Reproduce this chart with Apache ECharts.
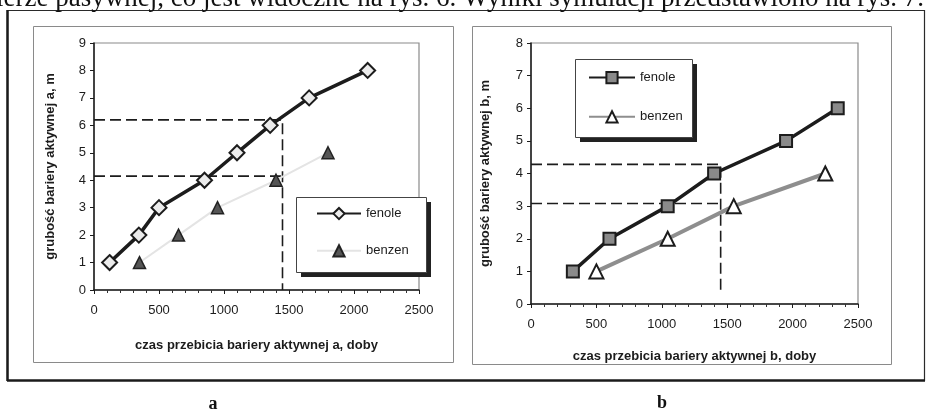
<!DOCTYPE html>
<html>
<head>
<meta charset="utf-8">
<script src="https://cdn.jsdelivr.net/npm/echarts@6/dist/echarts.min.js"></script>
<style>
html,body{margin:0;padding:0;background:#fff;}
#chart{width:930px;height:410px;}
</style>
</head>
<body>
<div id="chart"></div>
<script>
// ---- data ----
const seriesNames = ['fenole', 'benzen'];
const xTickValues = [0, 500, 1000, 1500, 2000, 2500];

// chart a
const fenoleAx = [120, 345, 500, 850, 1100, 1355, 1655, 2105];
const fenoleAy = [1, 2, 3, 4, 5, 6, 7, 8];
const benzenAx = [350, 650, 950, 1400, 1800];
const benzenAy = [1, 2, 3, 4, 5];
const guideAx = 1450;
const guideAyHigh = 6.2;
const guideAyLow = 4.15;

// chart b
const fenoleBx = [320, 600, 1045, 1400, 1950, 2345];
const fenoleBy = [1, 2, 3, 4, 5, 6];
const benzenBx = [500, 1045, 1550, 2250];
const benzenBy = [1, 2, 3, 4];
const guideBx = 1450;
const guideByHigh = 4.28;
const guideByLow = 3.08;
const guideByBottom = 0.35;

// texts
const topText = 'ierze pasywnej, co jest widoczne na rys. 6. Wyniki symulacji przedstawiono na rys. 7.';
const xNameA = 'czas przebicia bariery aktywnej a, doby';
const yNameA = 'grubość bariery aktywnej a, m';
const xNameB = 'czas przebicia bariery aktywnej b, doby';
const yNameB = 'grubość bariery aktywnej b, m';
const panelLabels = ['a', 'b'];

const zip = (xs, ys) => xs.map((x, i) => [x, ys[i]]);

const chart = echarts.init(document.getElementById('chart'), null, {renderer: 'canvas'});

const DARK = '#1c1c1c';
const FONT = 'Liberation Sans, Arial, sans-serif';

function xAxisCfg(gridIndex, name, gap) {
  return {
    type: 'value', gridIndex, min: xTickValues[0], max: xTickValues[xTickValues.length - 1], interval: 500,
    name, nameLocation: 'middle', nameGap: gap,
    nameTextStyle: {fontFamily: FONT, fontWeight: 'bold', fontSize: 13, color: DARK},
    axisLine: {show: true, onZero: false, lineStyle: {color: DARK, width: 1.5}},
    axisTick: {show: true, inside: false, length: 4, lineStyle: {color: DARK}},
    minorTick: {show: true, splitNumber: 5, length: 3, lineStyle: {color: '#333'}},
    axisLabel: {fontFamily: FONT, fontSize: 13, color: DARK, margin: 14, formatter: v => String(v)},
    splitLine: {show: false}
  };
}
function yAxisCfg(gridIndex, name, max, gap) {
  return {
    type: 'value', gridIndex, min: 0, max, interval: 1,
    name, nameLocation: 'middle', nameGap: gap, nameRotate: 90,
    nameTextStyle: {fontFamily: FONT, fontWeight: 'bold', fontSize: 13, color: DARK},
    axisLine: {show: true, onZero: false, lineStyle: {color: DARK, width: 1.5}},
    axisTick: {show: true, inside: false, length: 4, lineStyle: {color: DARK}},
    axisLabel: {fontFamily: FONT, fontSize: 13, color: DARK, margin: 8, formatter: v => String(v)},
    splitLine: {show: false}
  };
}

const guideStyle = {color: DARK, width: 1.6, type: [11, 5]};

function legendBox(x, y, w, h) {
  return [
    {type: 'rect', silent: true, z: 50, shape: {x: x + 5, y: y + 5, width: w, height: h}, style: {fill: '#222'}},
    {type: 'rect', silent: true, z: 51, shape: {x: x + 0.5, y: y + 0.5, width: w, height: h}, style: {fill: '#fff', stroke: '#444', lineWidth: 1}}
  ];
}

const option = {
  animation: false,
  backgroundColor: '#fff',
  grid: [
    {left: 94, top: 43, width: 325, height: 247, show: true, borderColor: '#8a8a8a', borderWidth: 1.2, backgroundColor: 'transparent'},
    {left: 531, top: 43, width: 327, height: 261, show: true, borderColor: '#8a8a8a', borderWidth: 1.2, backgroundColor: 'transparent'}
  ],
  xAxis: [xAxisCfg(0, xNameA, 49), xAxisCfg(1, xNameB, 46)],
  yAxis: [yAxisCfg(0, yNameA, 9, 37), yAxisCfg(1, yNameB, 8, 39)],
  legend: [
    {
      data: [seriesNames[0] + '|a', seriesNames[1] + '|a'],
      formatter: n => n.split('|')[0],
      orient: 'vertical', left: 296, top: 197, z: 60,
      padding: [10, 18, 12, 20], itemGap: 24, itemWidth: 44, itemHeight: 14,
      textStyle: {fontFamily: FONT, fontSize: 13, color: DARK},
      selectedMode: false
    },
    {
      data: [seriesNames[0] + '|b', seriesNames[1] + '|b'],
      formatter: n => n.split('|')[0],
      orient: 'vertical', left: 575, top: 59, z: 60,
      padding: [12, 10, 11, 13], itemGap: 26, itemWidth: 46, itemHeight: 14,
      textStyle: {fontFamily: FONT, fontSize: 13, color: DARK},
      selectedMode: false
    }
  ],
  series: [
    // chart a guides
    {type: 'line', xAxisIndex: 0, yAxisIndex: 0, silent: true, symbol: 'none', lineStyle: guideStyle,
      data: [[0, guideAyHigh], [guideAx, guideAyHigh], [guideAx, 0]], z: 1},
    {type: 'line', xAxisIndex: 0, yAxisIndex: 0, silent: true, symbol: 'none', lineStyle: guideStyle,
      data: [[0, guideAyLow], [guideAx, guideAyLow]], z: 1},
    // chart b guides
    {type: 'line', xAxisIndex: 1, yAxisIndex: 1, silent: true, symbol: 'none', lineStyle: guideStyle,
      data: [[0, guideByHigh], [guideBx, guideByHigh], [guideBx, guideByBottom]], z: 1},
    {type: 'line', xAxisIndex: 1, yAxisIndex: 1, silent: true, symbol: 'none', lineStyle: guideStyle,
      data: [[0, guideByLow], [guideBx, guideByLow]], z: 1},
    // chart a series
    {name: seriesNames[1] + '|a', type: 'line', xAxisIndex: 0, yAxisIndex: 0,
      data: zip(benzenAx, benzenAy), symbol: 'triangle', symbolSize: 12,
      lineStyle: {color: '#e4e4e4', width: 2},
      itemStyle: {color: '#555', borderColor: '#222', borderWidth: 1.5}, z: 3},
    {name: seriesNames[0] + '|a', type: 'line', xAxisIndex: 0, yAxisIndex: 0,
      data: zip(fenoleAx, fenoleAy), symbol: 'diamond', symbolSize: 15,
      lineStyle: {color: DARK, width: 3.5},
      itemStyle: {color: '#ececec', borderColor: DARK, borderWidth: 2}, z: 4},
    // chart b series
    {name: seriesNames[1] + '|b', type: 'line', xAxisIndex: 1, yAxisIndex: 1,
      data: zip(benzenBx, benzenBy), symbol: 'triangle', symbolSize: 14,
      lineStyle: {color: '#8e8e8e', width: 4},
      itemStyle: {color: '#fff', borderColor: DARK, borderWidth: 2}, z: 3},
    {name: seriesNames[0] + '|b', type: 'line', xAxisIndex: 1, yAxisIndex: 1,
      data: zip(fenoleBx, fenoleBy), symbol: 'rect', symbolSize: 12,
      lineStyle: {color: DARK, width: 3.5},
      itemStyle: {color: '#8a8a8a', borderColor: DARK, borderWidth: 2}, z: 4}
  ],
  graphic: [
    {type: 'text', x: -4, y: 12, silent: true,
      style: {text: topText, font: '27px "Liberation Serif", "Times New Roman", serif', fill: '#111', verticalAlign: 'bottom'}},
    // outer frame
    {type: 'rect', silent: true, shape: {x: 7.5, y: 10.5, width: 917, height: 370},
      style: {fill: 'none', stroke: '#2a2a2a', lineWidth: 1.2}, z: -10},
    {type: 'line', silent: true, shape: {x1: 7.5, y1: 10, x2: 7.5, y2: 381}, style: {stroke: '#1a1a1a', lineWidth: 2.5}, z: -10},
    {type: 'line', silent: true, shape: {x1: 7, y1: 380.5, x2: 925, y2: 380.5}, style: {stroke: '#1a1a1a', lineWidth: 2.5}, z: -10},
    // inner panel frames
    {type: 'rect', silent: true, shape: {x: 33.5, y: 26.5, width: 420, height: 336},
      style: {fill: 'none', stroke: '#8a8a8a', lineWidth: 1}, z: -10},
    {type: 'rect', silent: true, shape: {x: 472.5, y: 26.5, width: 419, height: 338},
      style: {fill: 'none', stroke: '#8a8a8a', lineWidth: 1}, z: -10},
    // legend boxes
    ...legendBox(296, 197, 130, 75),
    ...legendBox(575, 59, 117, 78),
    // panel labels
    {type: 'text', x: 213, y: 404, silent: true,
      style: {text: panelLabels[0], font: 'bold 18px "Liberation Serif", "Times New Roman", serif', fill: '#111', align: 'center', verticalAlign: 'middle'}},
    {type: 'text', x: 662, y: 403, silent: true,
      style: {text: panelLabels[1], font: 'bold 18px "Liberation Serif", "Times New Roman", serif', fill: '#111', align: 'center', verticalAlign: 'middle'}}
  ]
};
chart.setOption(option);
</script>
</body>
</html>
